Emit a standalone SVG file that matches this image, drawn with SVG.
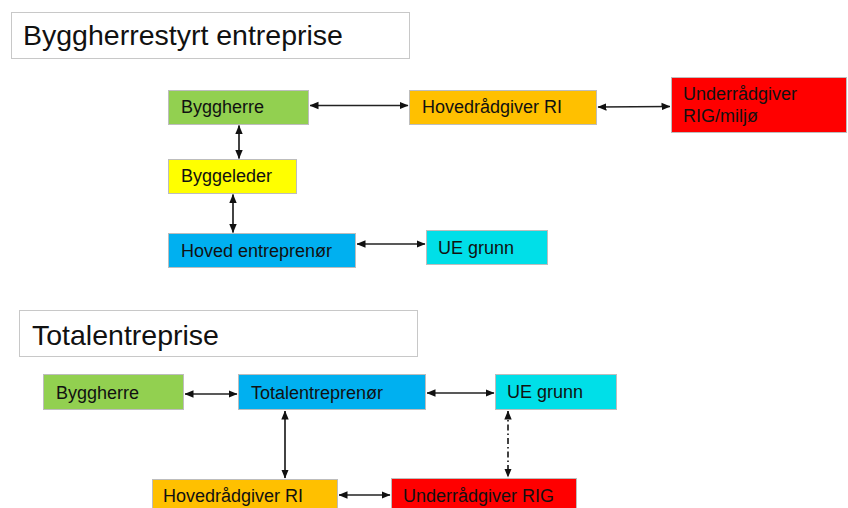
<svg xmlns="http://www.w3.org/2000/svg" width="848" height="508" viewBox="0 0 848 508">
<defs>
<marker id="ah" viewBox="0 0 9 9" refX="8.5" refY="4.5" markerWidth="9" markerHeight="9" markerUnits="userSpaceOnUse" orient="auto-start-reverse">
<path d="M0,0.8 L9,4.5 L0,8.2 Z" fill="#111"/>
</marker>
</defs>
<style>
.t{font-family:"Liberation Sans",Arial,sans-serif;fill:#111}
.title{font-size:28.5px}
.lbl{font-size:18px}
.box{stroke:#bdbdbd;stroke-width:1}
.hdr{fill:#fff;stroke:#c8c8c8;stroke-width:1}
.c{stroke:#222;stroke-width:1.7;fill:none;marker-start:url(#ah);marker-end:url(#ah)}
.d{stroke-dasharray:6,3,1.5,3}
</style>
<rect width="848" height="508" fill="#fff"/>
<g id="title1">
<rect class="hdr" x="11.5" y="12.5" width="398" height="46"/>
<text class="t title" x="23" y="45">Byggherrestyrt entreprise</text>
</g>
<g id="title2">
<rect class="hdr" x="19.5" y="310.5" width="398" height="46"/>
<text class="t title" x="32" y="345">Totalentreprise</text>
</g>
<g id="n1">
<rect class="box" x="168.5" y="90.5" width="140" height="34" fill="#92D050"/>
<text class="t lbl" x="181" y="113">Byggherre</text>
</g>
<g id="n2">
<rect class="box" x="409.5" y="90.5" width="187" height="34" fill="#FFC000"/>
<text class="t lbl" x="422" y="113">Hovedrådgiver RI</text>
</g>
<g id="n3">
<rect class="box" x="671.5" y="77.5" width="175" height="55" fill="#FF0000"/>
<text class="t lbl" x="683" y="100">Underrådgiver</text>
<text class="t lbl" x="683" y="122">RIG/miljø</text>
</g>
<g id="n4">
<rect class="box" x="168.5" y="159.5" width="128" height="34" fill="#FFFF00"/>
<text class="t lbl" x="181" y="182">Byggeleder</text>
</g>
<g id="n5">
<rect class="box" x="168.5" y="233.5" width="187" height="34" fill="#00B0F0"/>
<text class="t lbl" x="181" y="257">Hoved entreprenør</text>
</g>
<g id="n6">
<rect class="box" x="426.5" y="230.5" width="121" height="34" fill="#00DFE8"/>
<text class="t lbl" x="438" y="254">UE grunn</text>
</g>
<g id="m1">
<rect class="box" x="43.5" y="374.5" width="140" height="35" fill="#92D050"/>
<text class="t lbl" x="56" y="399">Byggherre</text>
</g>
<g id="m2">
<rect class="box" x="238.5" y="374.5" width="187" height="35" fill="#00B0F0"/>
<text class="t lbl" x="251" y="399">Totalentreprenør</text>
</g>
<g id="m3">
<rect class="box" x="495.5" y="374.5" width="121" height="35" fill="#00DFE8"/>
<text class="t lbl" x="507" y="398">UE grunn</text>
</g>
<g id="m4">
<rect class="box" x="152.5" y="479.5" width="185" height="34" fill="#FFC000"/>
<text class="t lbl" x="163" y="502">Hovedrådgiver RI</text>
</g>
<g id="m5">
<rect class="box" x="391.5" y="478.5" width="185" height="35" fill="#FF0000"/>
<text class="t lbl" x="403" y="502">Underrådgiver RIG</text>
</g>
<g id="connectors">
<line class="c" x1="310" y1="105.5" x2="408" y2="105.5"/>
<line class="c" x1="598" y1="107" x2="670" y2="106.5"/>
<line class="c" x1="239" y1="125.5" x2="239" y2="158.5"/>
<line class="c" x1="233" y1="194.5" x2="233" y2="232.5"/>
<line class="c" x1="357" y1="244" x2="425" y2="244"/>
<line class="c" x1="185" y1="394" x2="237" y2="394"/>
<line class="c" x1="427" y1="393" x2="494" y2="393"/>
<line class="c" x1="285" y1="411" x2="285" y2="478"/>
<line class="c d" x1="508" y1="411" x2="508" y2="477"/>
<line class="c" x1="339" y1="495" x2="390" y2="495"/>
</g>
</svg>
